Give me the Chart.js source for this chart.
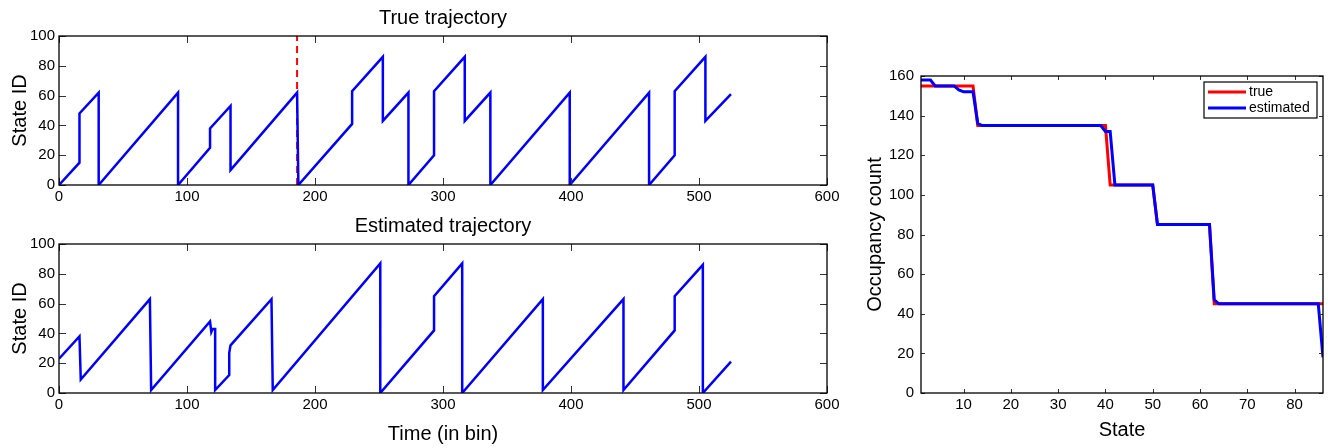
<!DOCTYPE html>
<html>
<head>
<meta charset="utf-8">
<script src="https://cdn.jsdelivr.net/npm/chart.js@4/dist/chart.umd.min.js"></script>
<style>
  html, body { margin: 0; padding: 0; background: #fff; }
  #wrap { position: relative; width: 1328px; height: 448px; overflow: hidden; }
  .box { position: absolute; }
</style>
</head>
<body>
<div id="wrap">
  <div class="box" style="left:0;top:0;width:845px;height:208px"><canvas id="trueChart"></canvas></div>
  <div class="box" style="left:0;top:208px;width:845px;height:240px"><canvas id="estChart"></canvas></div>
  <div class="box" style="left:845px;top:0;width:483px;height:448px"><canvas id="occChart"></canvas></div>
</div>
<script>
/* trajectory (true vs estimated) + occupancy count per state, MATLAB-style frames */
var BLUE = '#0000FF', RED = '#FF0000', FONT = "'Liberation Sans', Arial, Helvetica, sans-serif";

// true trajectory: time bin / state id at each vertex
var TRUE_T = [0, 16, 16, 31, 31, 93, 93, 118, 118, 134, 134, 186, 187, 229, 229, 253, 253, 273, 273, 293, 293, 317, 317, 337, 337, 399, 399, 461, 461, 481, 481, 505, 505, 525];
var TRUE_S = [0, 15, 48, 62, 0, 62, 0, 25, 38, 53, 10, 62, 0, 41, 63, 86, 43, 62, 0, 20, 63, 86, 43, 62, 0, 62, 0, 62, 0, 20, 63, 86, 43, 61];
var CUT_T = 186;   // red dashed marker

// estimated trajectory
var EST_T = [0, 16, 17, 71, 72, 118, 119, 120, 122, 122, 133, 133, 134, 166, 167, 251, 251, 293, 293, 315, 315, 378, 378, 441, 441, 481, 481, 503, 503, 525];
var EST_S = [23, 38, 9, 63, 2, 48, 41, 43, 43, 2, 12, 27, 32, 63, 2, 87, 0, 42, 65, 87, 0, 63, 2, 63, 2, 42, 65, 86, 0, 21];

// occupancy count per state
var OCC_TRUE_X = [1, 12, 13, 40, 41, 50, 51, 62, 63, 86];
var OCC_TRUE_Y = [155, 155, 135, 135, 105, 105, 85, 85, 45, 45];
var OCC_EST_X  = [1, 3, 4, 8, 9, 10, 12, 13, 14, 39, 40, 41, 42, 50, 51, 62, 63, 64, 85, 86];
var OCC_EST_Y  = [158, 158, 155, 155, 153, 152, 152, 136, 135, 135, 132, 132, 105, 105, 85, 85, 47, 45, 45, 18];

var TIME_TICKS  = [0, 100, 200, 300, 400, 500, 600];
var ID_TICKS    = [0, 20, 40, 60, 80, 100];
var STATE_TICKS = [10, 20, 30, 40, 50, 60, 70, 80];
var OCC_TICKS   = [0, 20, 40, 60, 80, 100, 120, 140, 160];

Chart.defaults.font.family = FONT;
Chart.defaults.color = '#000';

function pts(xs, ys) { return xs.map(function (x, i) { return { x: x, y: ys[i] }; }); }
function fixTicks(list) { return function (ax) { ax.ticks = list.map(function (v) { return { value: v }; }); }; }

// box, inward ticks, title and (optionally) legend
var frame = {
  id: 'frame',
  afterDraw: function (chart, args, o) {
    var c = chart.ctx, a = chart.chartArea, sx = chart.scales.x, sy = chart.scales.y, L = o.tick || 6;
    c.save();
    c.strokeStyle = '#333'; c.lineWidth = 1;
    c.beginPath();
    sx.ticks.forEach(function (t) {
      var p = Math.round(sx.getPixelForValue(t.value)) + .5;
      c.moveTo(p, a.bottom); c.lineTo(p, a.bottom - L);
      c.moveTo(p, a.top); c.lineTo(p, a.top + L);
    });
    sy.ticks.forEach(function (t) {
      var p = Math.round(sy.getPixelForValue(t.value)) + .5;
      c.moveTo(a.left, p); c.lineTo(a.left + L, p);
      c.moveTo(a.right, p); c.lineTo(a.right - L, p);
    });
    c.stroke();
    c.strokeStyle = '#000'; c.lineWidth = 1.3;
    c.strokeRect(a.left, a.top, a.right - a.left, a.bottom - a.top);
    if (o.title) {
      c.fillStyle = '#000'; c.font = '20px ' + FONT;
      c.textAlign = 'center'; c.textBaseline = 'middle';
      c.fillText(o.title, (a.left + a.right) / 2, a.top - 18);
    }
    if (o.legend) {
      var w = 113, h = 36, bx = a.right - 6 - w, by = a.top + 6;
      c.fillStyle = '#fff'; c.fillRect(bx, by, w, h);
      c.strokeStyle = '#000'; c.lineWidth = 1.2; c.strokeRect(bx, by, w, h);
      c.font = '14px ' + FONT; c.textAlign = 'left'; c.textBaseline = 'middle';
      chart.data.datasets.forEach(function (ds, i) {
        var yy = by + 10 + i * 16;
        c.strokeStyle = ds.borderColor; c.lineWidth = 3;
        c.beginPath(); c.moveTo(bx + 4, yy); c.lineTo(bx + 42, yy); c.stroke();
        c.fillStyle = '#000'; c.fillText(ds.label, bx + 45, yy);
      });
    }
    c.restore();
  }
};

function trajChart(id, T, S, title, xTitle, extra) {
  var sets = [{ label: title, data: pts(T, S), borderColor: BLUE, borderWidth: 2.5,
                pointRadius: 0, tension: 0, fill: false }];
  if (extra) sets.push(extra);
  return new Chart(document.getElementById(id), {
    type: 'line',
    data: { datasets: sets },
    plugins: [frame],
    options: {
      responsive: true, maintainAspectRatio: false, animation: false,
      layout: { padding: { top: 36, right: 18, left: 0, bottom: 0 } },
      plugins: { legend: { display: false }, tooltip: { enabled: false },
                 frame: { title: title, tick: 7 } },
      scales: {
        x: { type: 'linear', min: 0, max: 600,
             afterBuildTicks: fixTicks(TIME_TICKS),
             afterFit: function (ax) { ax.height = xTitle ? 55 : 23; },
             grid: { display: false, drawTicks: false }, border: { display: false },
             ticks: { font: { size: 15 }, padding: 3, maxRotation: 0 },
             title: { display: !!xTitle, text: xTitle || '', font: { size: 20 }, padding: { top: 0, bottom: 2 } } },
        y: { min: 0, max: 100,
             afterBuildTicks: fixTicks(ID_TICKS),
             afterFit: function (ax) { ax.width = 59; },
             grid: { display: false, drawTicks: false }, border: { display: false },
             ticks: { font: { size: 15 }, padding: 4 },
             title: { display: true, text: 'State ID', font: { size: 20 }, padding: { top: 8, bottom: 0 } } }
      }
    }
  });
}

trajChart('trueChart', TRUE_T, TRUE_S, 'True trajectory', null,
  { label: 'cut', data: pts([CUT_T, CUT_T], [0, 100]), borderColor: RED, borderWidth: 2,
    borderDash: [7, 5], pointRadius: 0, fill: false });
trajChart('estChart', EST_T, EST_S, 'Estimated trajectory', 'Time (in bin)');

new Chart(document.getElementById('occChart'), {
  type: 'line',
  data: {
    datasets: [
      { label: 'true', data: pts(OCC_TRUE_X, OCC_TRUE_Y), borderColor: RED, borderWidth: 3,
        pointRadius: 0, tension: 0, fill: false, order: 1 },
      { label: 'estimated', data: pts(OCC_EST_X, OCC_EST_Y), borderColor: BLUE, borderWidth: 3,
        pointRadius: 0, tension: 0, fill: false, order: 0 }
    ]
  },
  plugins: [frame],
  options: {
    responsive: true, maintainAspectRatio: false, animation: false,
    layout: { padding: { top: 76, right: 5, left: 0, bottom: 0 } },
    plugins: { legend: { display: false }, tooltip: { enabled: false },
               frame: { legend: true, tick: 4 } },
    scales: {
      x: { type: 'linear', min: 1, max: 86,
           afterBuildTicks: fixTicks(STATE_TICKS),
           afterFit: function (ax) { ax.height = 55; },
           grid: { display: false, drawTicks: false }, border: { display: false },
           ticks: { font: { size: 15 }, padding: 3, maxRotation: 0 },
           title: { display: true, text: 'State', font: { size: 20 }, padding: { top: 0, bottom: 6 } } },
      y: { min: 0, max: 160,
           afterBuildTicks: fixTicks(OCC_TICKS),
           afterFit: function (ax) { ax.width = 76; },
           grid: { display: false, drawTicks: false }, border: { display: false },
           ticks: { font: { size: 15 }, padding: 7 },
           title: { display: true, text: 'Occupancy count', font: { size: 20 }, padding: { top: 18, bottom: 0 } } }
    }
  }
});
</script>
</body>
</html>
